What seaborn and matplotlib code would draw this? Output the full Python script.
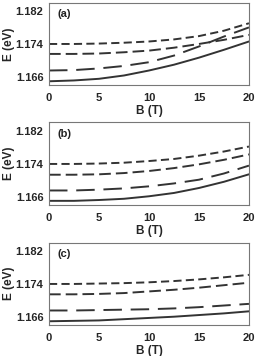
import matplotlib
matplotlib.use('Agg')
import matplotlib.pyplot as plt
import seaborn as sns
import pandas as pd
import numpy as np

# magnetic field (T)
B = [0, 2.5, 5, 7.5, 10, 12.5, 15, 17.5, 20]

# energies (eV), four levels per panel
a_solid = [1.1650, 1.1652, 1.1656, 1.1664, 1.1676, 1.1690, 1.1707, 1.1726, 1.1746]
a_long = [1.1676, 1.1677, 1.1681, 1.1687, 1.1696, 1.1712, 1.1734, 1.1758, 1.1780]
a_med = [1.1716, 1.1716, 1.1717, 1.1720, 1.1724, 1.1731, 1.1740, 1.1750, 1.1762]
a_short = [1.1740, 1.1740, 1.1741, 1.1743, 1.1746, 1.1751, 1.1759, 1.1772, 1.1790]

b_solid = [1.1651, 1.1651, 1.1653, 1.1656, 1.1662, 1.1670, 1.1682, 1.1697, 1.1715]
b_long = [1.1676, 1.1676, 1.1678, 1.1681, 1.1686, 1.1693, 1.1702, 1.1717, 1.1736]
b_med = [1.1714, 1.1714, 1.1715, 1.1718, 1.1723, 1.1730, 1.1739, 1.1750, 1.1763]
b_short = [1.1740, 1.1740, 1.1741, 1.1743, 1.1747, 1.1752, 1.1760, 1.1770, 1.1782]

c_solid = [1.1650, 1.1651, 1.1652, 1.1655, 1.1658, 1.1661, 1.1665, 1.1669, 1.1674]
c_long = [1.1676, 1.1676, 1.1677, 1.1678, 1.1679, 1.1681, 1.1684, 1.1688, 1.1692]
c_med = [1.1715, 1.1715, 1.1716, 1.1718, 1.1722, 1.1726, 1.1731, 1.1737, 1.1743]
c_short = [1.1740, 1.1740, 1.1741, 1.1742, 1.1744, 1.1747, 1.1751, 1.1756, 1.1762]

panels = {
    '(a)': [a_solid, a_long, a_med, a_short],
    '(b)': [b_solid, b_long, b_med, b_short],
    '(c)': [c_solid, c_long, c_med, c_short],
}
levels = ['solid', 'long', 'med', 'short']
yticks = [1.166, 1.174, 1.182]
xticks = [0, 5, 10, 15, 20]

sns.set_style("white")
plt.rcParams['font.family'] = ['Liberation Sans', 'DejaVu Sans']
plt.rcParams['font.weight'] = 'bold'

dashes = {'solid': '', 'long': (9.5, 4.5), 'med': (6.0, 2.6), 'short': (4.2, 2.2)}

fig = plt.figure(figsize=(2.57, 3.56), dpi=100)
bottoms = [0.7612, 0.4242, 0.0871]

for (name, series), bot in zip(panels.items(), bottoms):
    ax = fig.add_axes([0.1907, bot, 0.778, 0.2317])
    rows = []
    for lev, vals in zip(levels, series):
        for b, e in zip(B, vals):
            rows.append({'B': b, 'E': e, 'level': lev})
    df = pd.DataFrame(rows)
    sns.lineplot(data=df, x='B', y='E', style='level', dashes=dashes,
                 color='#333333', linewidth=1.4, legend=False, ax=ax)

    ax.set_xlim(0, 20)
    ax.set_ylim(1.1641, 1.1840)
    ax.set_xticks(xticks)
    ax.set_yticks(yticks)
    ax.set_yticklabels(['%.3f' % t for t in yticks])
    ax.tick_params(direction='in', length=3, width=0.6, color='#666666',
                   labelsize=8, pad=4)
    ax.tick_params(axis='x', pad=6)
    for lab in ax.get_xticklabels() + ax.get_yticklabels():
        lab.set_fontweight('bold')
    for sp in ax.spines.values():
        sp.set_color('#777777')
        sp.set_linewidth(0.8)
    ax.set_xlabel('B (T)', fontsize=8.5, fontweight='bold')
    ax.set_ylabel('E (eV)', fontsize=8.5, fontweight='bold')
    ax.xaxis.set_label_coords(0.5, -0.24)
    ax.yaxis.set_label_coords(-0.17, 0.5)
    ax.text(0.04, 0.92, name, transform=ax.transAxes, fontsize=8,
            fontweight='bold', va='top', ha='left', color='#222222')

fig.savefig('out.png', dpi=100)
